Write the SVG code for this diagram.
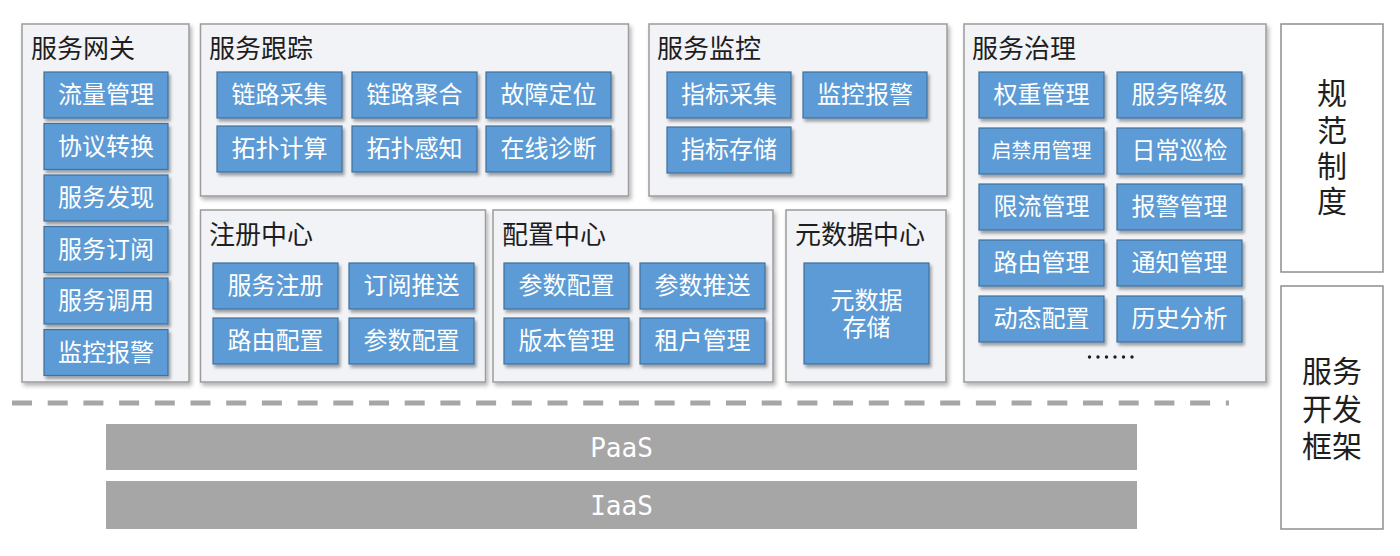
<svg xmlns="http://www.w3.org/2000/svg" width="1400" height="556" viewBox="0 0 1400 556">
<style>
.panel{fill:#f2f3f7;stroke:#9c9c9c;stroke-width:1.5;filter:url(#sh)}
.item{fill:#5b9bd5;stroke:#41719c;stroke-width:1.2;filter:url(#sh2)}
.side{fill:#ffffff;stroke:#8f8f8f;stroke-width:1.5}
.title{font-family:"Noto Sans CJK SC","Microsoft YaHei",sans-serif;font-size:26px;fill:#1e1e1e}
.t{font-family:"Noto Sans CJK SC","Microsoft YaHei",sans-serif;font-size:24px;fill:#ffffff;text-anchor:middle}
.ts{font-size:20px}
.vt{font-family:"Noto Sans CJK SC","Microsoft YaHei",sans-serif;font-size:30px;fill:#1e1e1e;text-anchor:middle}
.bar{fill:#a6a6a6}
.bt{font-family:"DejaVu Sans Mono","Liberation Mono",monospace;font-size:26px;fill:#ffffff;text-anchor:middle}
</style>
<defs>
<filter id="sh" x="-10%" y="-10%" width="120%" height="120%">
<feDropShadow dx="2" dy="3" stdDeviation="2" flood-color="#000" flood-opacity="0.3"/>
</filter>
<filter id="sh2" x="-10%" y="-10%" width="125%" height="130%">
<feDropShadow dx="2" dy="3" stdDeviation="1.5" flood-color="#000" flood-opacity="0.35"/>
</filter>
</defs>

<g id="gateway">
<rect class="panel" x="22" y="24" width="167" height="358"/>
<text class="title" x="31" y="58">服务网关</text>
<rect class="item" x="44" y="72" width="124" height="46"/><text class="t" x="106" y="103">流量管理</text>
<rect class="item" x="44" y="123.5" width="124" height="46"/><text class="t" x="106" y="154.5">协议转换</text>
<rect class="item" x="44" y="175" width="124" height="46"/><text class="t" x="106" y="206">服务发现</text>
<rect class="item" x="44" y="226.5" width="124" height="46"/><text class="t" x="106" y="257.5">服务订阅</text>
<rect class="item" x="44" y="278" width="124" height="46"/><text class="t" x="106" y="309">服务调用</text>
<rect class="item" x="44" y="329.5" width="124" height="46"/><text class="t" x="106" y="360.5">监控报警</text>
</g>

<g id="tracing">
<rect class="panel" x="200.5" y="24" width="428" height="172"/>
<text class="title" x="209" y="58">服务跟踪</text>
<rect class="item" x="217" y="72" width="125" height="46"/><text class="t" x="279.5" y="103">链路采集</text>
<rect class="item" x="352" y="72" width="125" height="46"/><text class="t" x="414.5" y="103">链路聚合</text>
<rect class="item" x="486" y="72" width="125" height="46"/><text class="t" x="548.5" y="103">故障定位</text>
<rect class="item" x="217" y="126" width="125" height="46"/><text class="t" x="279.5" y="157">拓扑计算</text>
<rect class="item" x="352" y="126" width="125" height="46"/><text class="t" x="414.5" y="157">拓扑感知</text>
<rect class="item" x="486" y="126" width="125" height="46"/><text class="t" x="548.5" y="157">在线诊断</text>
</g>

<g id="monitoring">
<rect class="panel" x="649" y="24" width="298" height="172"/>
<text class="title" x="657" y="58">服务监控</text>
<rect class="item" x="667" y="72" width="124" height="46"/><text class="t" x="729" y="103">指标采集</text>
<rect class="item" x="803" y="72" width="124" height="46"/><text class="t" x="865" y="103">监控报警</text>
<rect class="item" x="667" y="127" width="124" height="46"/><text class="t" x="729" y="158">指标存储</text>
</g>

<g id="governance">
<rect class="panel" x="964" y="24" width="302" height="358"/>
<text class="title" x="972" y="58">服务治理</text>
<rect class="item" x="979" y="72" width="125" height="46"/><text class="t" x="1041.5" y="103">权重管理</text>
<rect class="item" x="1117" y="72" width="125" height="46"/><text class="t" x="1179.5" y="103">服务降级</text>
<rect class="item" x="979" y="128" width="125" height="46"/><text class="t ts" x="1041.5" y="158">启禁用管理</text>
<rect class="item" x="1117" y="128" width="125" height="46"/><text class="t" x="1179.5" y="159">日常巡检</text>
<rect class="item" x="979" y="184" width="125" height="46"/><text class="t" x="1041.5" y="215">限流管理</text>
<rect class="item" x="1117" y="184" width="125" height="46"/><text class="t" x="1179.5" y="215">报警管理</text>
<rect class="item" x="979" y="240" width="125" height="46"/><text class="t" x="1041.5" y="271">路由管理</text>
<rect class="item" x="1117" y="240" width="125" height="46"/><text class="t" x="1179.5" y="271">通知管理</text>
<rect class="item" x="979" y="296" width="125" height="46"/><text class="t" x="1041.5" y="327">动态配置</text>
<rect class="item" x="1117" y="296" width="125" height="46"/><text class="t" x="1179.5" y="327">历史分析</text>
<g fill="#1e1e1e">
<circle cx="1089.5" cy="357" r="1.7"/><circle cx="1098" cy="357" r="1.7"/><circle cx="1106.5" cy="357" r="1.7"/><circle cx="1115" cy="357" r="1.7"/><circle cx="1123.5" cy="357" r="1.7"/><circle cx="1132" cy="357" r="1.7"/>
</g>
</g>

<g id="registry">
<rect class="panel" x="200.5" y="210" width="285" height="172"/>
<text class="title" x="209" y="244">注册中心</text>
<rect class="item" x="213" y="263" width="125" height="46"/><text class="t" x="275.5" y="294">服务注册</text>
<rect class="item" x="349" y="263" width="125" height="46"/><text class="t" x="411.5" y="294">订阅推送</text>
<rect class="item" x="213" y="318" width="125" height="46"/><text class="t" x="275.5" y="349">路由配置</text>
<rect class="item" x="349" y="318" width="125" height="46"/><text class="t" x="411.5" y="349">参数配置</text>
</g>

<g id="config">
<rect class="panel" x="493" y="210" width="280" height="172"/>
<text class="title" x="502" y="244">配置中心</text>
<rect class="item" x="504" y="263" width="125" height="46"/><text class="t" x="566.5" y="294">参数配置</text>
<rect class="item" x="640" y="263" width="125" height="46"/><text class="t" x="702.5" y="294">参数推送</text>
<rect class="item" x="504" y="318" width="125" height="46"/><text class="t" x="566.5" y="349">版本管理</text>
<rect class="item" x="640" y="318" width="125" height="46"/><text class="t" x="702.5" y="349">租户管理</text>
</g>

<g id="metadata">
<rect class="panel" x="786" y="210" width="160" height="172"/>
<text class="title" x="795" y="244">元数据中心</text>
<rect class="item" x="804" y="263" width="125" height="101"/>
<text class="t" x="866.5" y="309"><tspan x="866.5">元数据</tspan><tspan x="866.5" dy="27">存储</tspan></text>
</g>

<g id="standards">
<rect class="side" x="1281" y="24" width="102" height="248"/>
<text class="vt" x="1332" y="104"><tspan x="1332">规</tspan><tspan x="1332" dy="36.5">范</tspan><tspan x="1332" dy="36.5">制</tspan><tspan x="1332" dy="35">度</tspan></text>
</g>

<g id="framework">
<rect class="side" x="1281" y="286" width="102" height="243"/>
<text class="vt" x="1332" y="382"><tspan x="1332">服务</tspan><tspan x="1332" dy="38">开发</tspan><tspan x="1332" dy="37">框架</tspan></text>
</g>

<g id="connectors">
<line x1="12" y1="403" x2="1229" y2="403" stroke="#a6a6a6" stroke-width="5" stroke-dasharray="20 15.7"/>
</g>

<g id="paas">
<rect class="bar" x="106" y="424" width="1031" height="46"/>
<text class="bt" x="621.5" y="457">PaaS</text>
</g>
<g id="iaas">
<rect class="bar" x="106" y="481" width="1031" height="48"/>
<text class="bt" x="621.5" y="515">IaaS</text>
</g>
</svg>
